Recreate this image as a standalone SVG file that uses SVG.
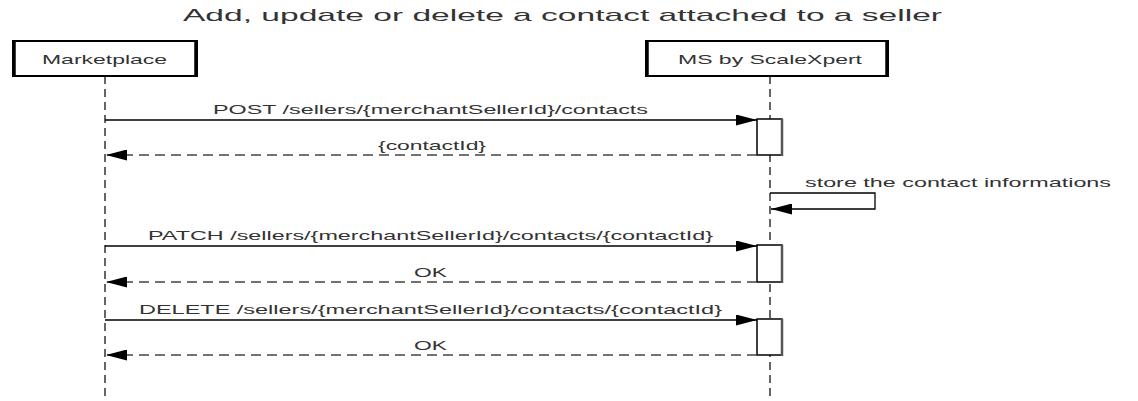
<svg xmlns="http://www.w3.org/2000/svg" width="1138" height="401" viewBox="0 0 1138 401">
<style>
.t{font-family:"Liberation Sans",Arial,sans-serif;fill:#333}
.title{font-size:17px}
.lbl{font-size:13px}
.actor{fill:#fff;stroke:#000;stroke-width:2}
.edge{stroke:#000;stroke-width:3.5}
.life{stroke:#333;stroke-width:1.5;stroke-dasharray:8 5;fill:none}
.msg{stroke:#000;stroke-width:1.3;fill:none}
.ret{stroke:#444;stroke-width:1.5;stroke-dasharray:10 6;fill:none}
.act{fill:#fff;stroke:#000;stroke-width:1.5}
.actsh{stroke:#555;stroke-width:2.5}
</style>
<defs>
<marker id="ah" markerUnits="userSpaceOnUse" markerWidth="21" markerHeight="11" viewBox="0 0 21 11" refX="21" refY="5.5" orient="auto">
<path d="M0,0 L21,5.5 L0,11 Z" fill="#000"/>
</marker>
</defs>
<text class="t title" x="183" y="21" textLength="759" lengthAdjust="spacingAndGlyphs">Add, update or delete a contact attached to a seller</text>
<g id="lifelines">
<line class="life" x1="105" y1="76" x2="105" y2="401"/>
<line class="life" x1="770" y1="76" x2="770" y2="401"/>
</g>
<g id="marketplace">
<rect class="actor" x="13" y="41" width="184" height="35"/>
<line class="edge" x1="14" y1="41" x2="14" y2="76"/>
<line class="edge" x1="196" y1="41" x2="196" y2="76"/>
<text class="t lbl" x="42" y="64" textLength="125" lengthAdjust="spacingAndGlyphs">Marketplace</text>
</g>
<g id="ms">
<rect class="actor" x="646" y="41" width="242" height="35"/>
<line class="edge" x1="647" y1="41" x2="647" y2="76"/>
<line class="edge" x1="887" y1="41" x2="887" y2="76"/>
<text class="t lbl" x="678" y="64" textLength="184" lengthAdjust="spacingAndGlyphs">MS by ScaleXpert</text>
</g>
<g id="activations">
<rect class="act" x="757" y="119" width="25" height="36"/>
<line class="actsh" x1="782" y1="119" x2="782" y2="156"/>
<rect class="act" x="757" y="245" width="25" height="37"/>
<line class="actsh" x1="782" y1="245" x2="782" y2="283"/>
<rect class="act" x="757" y="319" width="25" height="36"/>
<line class="actsh" x1="782" y1="319" x2="782" y2="356"/>
</g>
<g id="connectors">
<line class="msg" x1="105" y1="120" x2="757" y2="120" marker-end="url(#ah)"/>
<line class="ret" x1="757" y1="155" x2="106" y2="155" marker-end="url(#ah)"/>
<path class="msg" d="M770,193 H875 V209 H771" marker-end="url(#ah)"/>
<line class="msg" x1="105" y1="246" x2="757" y2="246" marker-end="url(#ah)"/>
<line class="ret" x1="757" y1="282" x2="106" y2="282" marker-end="url(#ah)"/>
<line class="msg" x1="105" y1="320" x2="757" y2="320" marker-end="url(#ah)"/>
<line class="ret" x1="757" y1="355" x2="106" y2="355" marker-end="url(#ah)"/>
</g>
<g id="labels">
<text class="t lbl" x="213" y="114" textLength="435" lengthAdjust="spacingAndGlyphs">POST /sellers/{merchantSellerId}/contacts</text>
<text class="t lbl" x="378" y="150" textLength="108" lengthAdjust="spacingAndGlyphs">{contactId}</text>
<text class="t lbl" x="805" y="187" textLength="306" lengthAdjust="spacingAndGlyphs">store the contact informations</text>
<text class="t lbl" x="148" y="240" textLength="565" lengthAdjust="spacingAndGlyphs">PATCH /sellers/{merchantSellerId}/contacts/{contactId}</text>
<text class="t lbl" x="414" y="277" textLength="33" lengthAdjust="spacingAndGlyphs">OK</text>
<text class="t lbl" x="139" y="314" textLength="583" lengthAdjust="spacingAndGlyphs">DELETE /sellers/{merchantSellerId}/contacts/{contactId}</text>
<text class="t lbl" x="414" y="350" textLength="33" lengthAdjust="spacingAndGlyphs">OK</text>
</g>
</svg>
